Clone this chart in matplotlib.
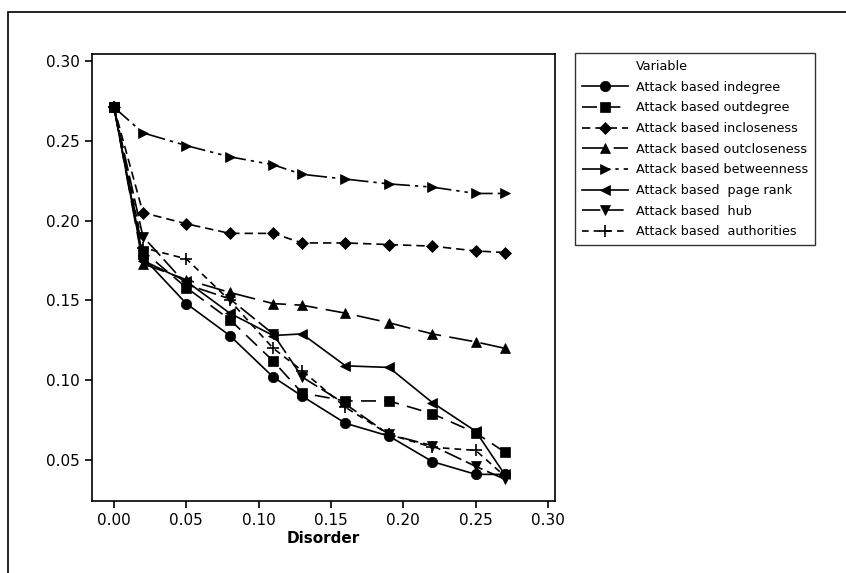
import matplotlib
matplotlib.use('Agg')
import matplotlib.pyplot as plt
from matplotlib.lines import Line2D
from matplotlib.patches import Rectangle

matplotlib.rcParams.update({'font.size': 11, 'font.family': 'DejaVu Sans'})

disorder = [0.00, 0.02, 0.05, 0.08, 0.11, 0.13, 0.16, 0.19, 0.22, 0.25, 0.27]

indegree = [0.271, 0.177, 0.148, 0.128, 0.102, 0.090, 0.073, 0.065, 0.049, 0.041, 0.041]
outdegree = [0.271, 0.181, 0.158, 0.138, 0.112, 0.092, 0.087, 0.087, 0.079, 0.067, 0.055]
incloseness = [0.271, 0.205, 0.198, 0.192, 0.192, 0.186, 0.186, 0.185, 0.184, 0.181, 0.180]
outcloseness = [0.271, 0.173, 0.163, 0.155, 0.148, 0.147, 0.142, 0.136, 0.129, 0.124, 0.120]
betweenness = [0.271, 0.255, 0.247, 0.240, 0.235, 0.229, 0.226, 0.223, 0.221, 0.217, 0.217]
page_rank = [0.271, 0.175, 0.162, 0.142, 0.128, 0.129, 0.109, 0.108, 0.086, 0.068, 0.041]
hub = [0.271, 0.190, 0.160, 0.151, 0.129, 0.102, 0.085, 0.066, 0.059, 0.046, 0.038]
authorities = [0.271, 0.183, 0.176, 0.150, 0.120, 0.106, 0.083, 0.066, 0.058, 0.056, 0.040]

series = [
    ('Attack based indegree', indegree, 'o', '-'),
    ('Attack based outdegree', outdegree, 's', (0, (9, 5))),
    ('Attack based incloseness', incloseness, 'D', (0, (5, 3))),
    ('Attack based outcloseness', outcloseness, '^', (0, (14, 5))),
    ('Attack based betweenness', betweenness, '>', (0, (12, 3, 2, 3, 2, 3))),
    ('Attack based  page rank', page_rank, '<', '-'),
    ('Attack based  hub', hub, 'v', (0, (11, 3))),
    ('Attack based  authorities', authorities, '+', (0, (4, 3))),
]

fig = plt.figure(figsize=(8.46, 5.73), dpi=100)

# outer frame of the graph window
fig.patches.append(Rectangle((8 / 846, -0.05), 1.2, 1 - 12 / 573 + 0.05,
                             transform=fig.transFigure, fill=False,
                             edgecolor='black', linewidth=1.2))

ax = fig.add_axes([92 / 846, 1 - 501 / 573, 463 / 846, 447 / 573])

handles = [Line2D([], [], linestyle='none', marker='none')]
labels = ['Variable']
for name, vals, mk, ls in series:
    ms = 9 if mk == '+' else (6.5 if mk == 'D' else 7.5)
    line, = ax.plot(disorder, vals, color='black', marker=mk, linestyle=ls,
                    linewidth=1.2, markersize=ms, markeredgewidth=1.2 if mk == '+' else 0.5)
    handles.append(line)
    labels.append(name)

ax.set_xlim(-0.0152, 0.3048)
ax.set_ylim(0.0243, 0.3044)
ax.set_xticks([0.00, 0.05, 0.10, 0.15, 0.20, 0.25, 0.30])
ax.set_yticks([0.05, 0.10, 0.15, 0.20, 0.25, 0.30])
ax.xaxis.set_major_formatter(matplotlib.ticker.FormatStrFormatter('%.2f'))
ax.yaxis.set_major_formatter(matplotlib.ticker.FormatStrFormatter('%.2f'))
ax.tick_params(direction='out', length=5, width=1.2, top=False, right=False, labelsize=11)
for sp in ax.spines.values():
    sp.set_linewidth(1.2)
ax.set_xlabel('Disorder', fontweight='bold', fontsize=11, labelpad=2)

leg = fig.legend(handles, labels, loc='upper left',
                 bbox_to_anchor=(575 / 846, 1 - 53 / 573),
                 fontsize=9.2, frameon=True, fancybox=False, handlelength=3.6,
                 handletextpad=0.6, labelspacing=0.6, borderpad=0.55,
                 borderaxespad=0)
leg.get_frame().set_edgecolor('black')
leg.get_frame().set_linewidth(1.0)

fig.savefig('out.png', dpi=100)
